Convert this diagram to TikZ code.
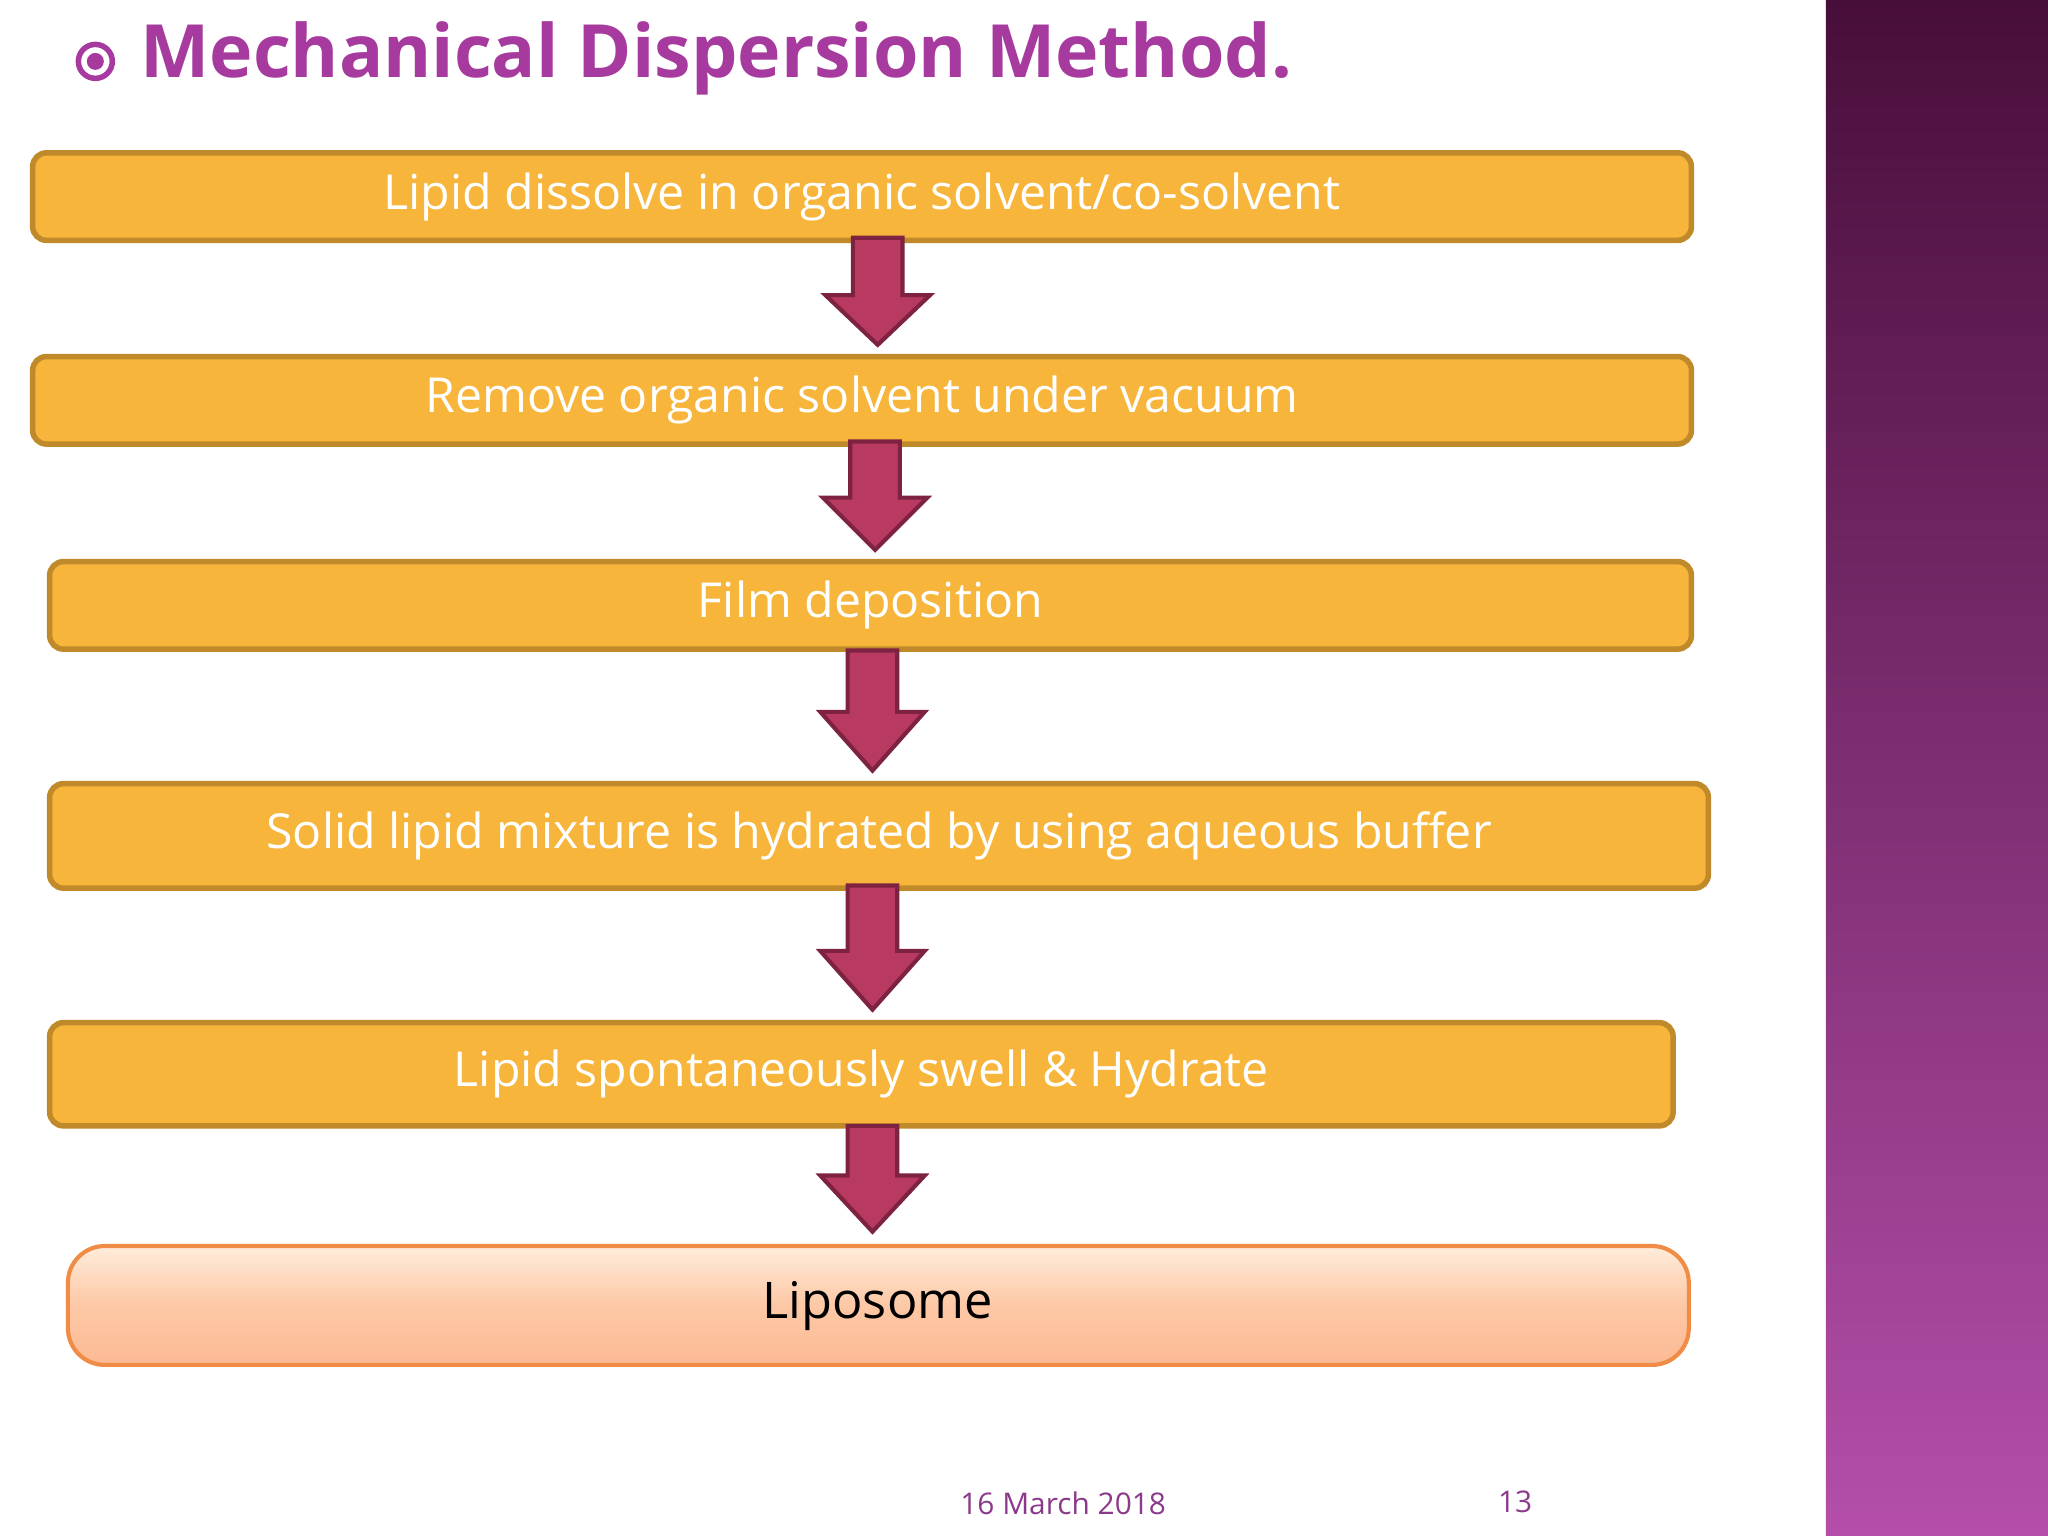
\documentclass[tikz,border=0pt]{standalone}
\usepackage{fontspec}
\setmainfont{Open Sans}
\usetikzlibrary{shadings}
\definecolor{boxfill}{HTML}{F7B53B}
\definecolor{boxline}{HTML}{C08A2A}
\definecolor{arrfill}{HTML}{B83A60}
\definecolor{arrline}{HTML}{7D2240}
\definecolor{titlec}{HTML}{A63A9E}
\definecolor{footc}{HTML}{8B3A8B}
\begin{document}
\begin{tikzpicture}[x=0.01cm,y=-0.01cm,
  stepbx/.style={draw=boxline,line width=1.2pt,fill=boxfill,rounded corners=3pt},
  steptext/.style={text=white,font=\fontsize{10.5pt}{12pt}\selectfont},
  arr/.style={draw=arrline,line width=0.9pt,fill=arrfill,line join=miter}]
\useasboundingbox (0,0) rectangle (1568,1176);
\fill[white] (0,0) rectangle (1398,1176);
\shade[top color={rgb,255:red,72;green,14;blue,58}, bottom color={rgb,255:red,180;green,78;blue,170}] (1398,0) rectangle (1568,1176);
% title
\draw[titlec,line width=1.2pt] (73,47) circle (13);
\fill[titlec] (73,47) circle (6.5);
\node[anchor=west,text=titlec,font=\fontsize{16pt}{18pt}\selectfont\bfseries] (title) at (95,45) {Mechanical Dispersion Method.};
% boxes
\newcommand{\stepbox}[6]{\draw[stepbx] (#1,#2) rectangle (#3,#4);
  \node[steptext] (#5) at ({(#1+#3)/2},{(#2+#4)/2}) {#6};}
\stepbox{25}{117}{1295}{184}{b1}{Lipid dissolve in organic solvent/co-solvent}
\stepbox{25}{273}{1295}{340}{b2}{Remove organic solvent under vacuum}
\stepbox{38}{430}{1295}{497}{b3}{Film deposition}
\stepbox{38}{600}{1308}{680}{b4}{Solid lipid mixture is hydrated by using aqueous buffer}
\stepbox{38}{783}{1281}{862}{b5}{Lipid spontaneously swell \& Hydrate}
\shade[top color={rgb,255:red,255;green,236;blue,220}, bottom color={rgb,255:red,252;green,186;blue,148}, middle color={rgb,255:red,253;green,200;blue,165}, rounded corners=8pt] (52,954) rectangle (1293,1045);
\draw[draw={rgb,255:red,240;green,140;blue,70},line width=0.9pt,rounded corners=8pt] (52,954) rectangle (1293,1045);
\node[text=black,font=\fontsize{11pt}{13pt}\selectfont] (b6) at (672,1000) {Liposome};
% arrows
\newcommand{\blockarrow}[4]{\draw[arr] (#1-19,#2) -- (#1+19,#2) -- (#1+19,#3) -- (#1+40,#3) -- (#1,#4) -- (#1-40,#3) -- (#1-19,#3) -- cycle;}
\blockarrow{672}{182}{226}{264}
\blockarrow{670}{338}{381}{421}
\blockarrow{668}{498}{545}{590}
\blockarrow{668}{678}{728}{773}
\blockarrow{668}{862}{900}{943}
% footer
\node[text=footc,font=\fontsize{6.5pt}{8pt}\selectfont] (date) at (814,1151) {16 March 2018};
\node[text=footc,font=\fontsize{6.5pt}{8pt}\selectfont] (page) at (1160,1150) {13};
\end{tikzpicture}
\end{document}
